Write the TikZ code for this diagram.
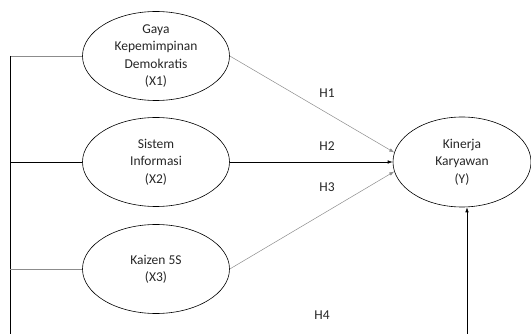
\documentclass[tikz,border=0pt]{standalone}
\usepackage{fontspec}
\setmainfont{Carlito}
\usetikzlibrary{shapes.geometric,arrows.meta}
\begin{document}
\begin{tikzpicture}[x=1pt,y=-1pt,
  var/.style={draw=black,line width=0.6pt,ellipse,inner sep=0pt,minimum width=147pt,minimum height=89pt,align=center,font=\fontsize{13.5}{17.3}\selectfont,text=black!85},
  thin gray/.style={draw=black!45,line width=0.5pt},
  dark/.style={draw=black,line width=0.6pt},
  arr/.style={-{Latex[length=5pt,width=3.5pt]}},
  lab/.style={font=\fontsize{13.5}{16}\selectfont,text=black!85}]
\useasboundingbox (0,0) rectangle (531,334);
\node[var] (x1) at (156,56) {Gaya\\Kepemimpinan\\Demokratis\\(X1)};
\node[var] (x2) at (156,162) {Sistem\\Informasi\\(X2)};
\node[var] (x3) at (156,269) {Kaizen 5S\\(X3)};
\node[var,minimum width=138pt,minimum height=90pt] (y) at (462,162) {Kinerja\\Karyawan\\(Y)};
\coordinate (c1) at (10,56);
\coordinate (cb) at (10,334);
\coordinate (hb) at (467,334);
\draw[thin gray] (x1.west) -- (c1);
\draw[dark] (c1) -- (cb);
\draw[dark] (x2.west) -- (c1 |- x2.west);
\draw[thin gray] (x3.west) -- (c1 |- x3.west);
\draw[thin gray,arr] (x1.east) -- (y.172);
\draw[dark,arr] (x2.east) -- (y.west);
\draw[thin gray,arr] (x3.east) -- (y.188);
\draw[dark,arr] (hb) -- (hb |- y.south);
\node[lab] (h1) at (327,93) {H1};
\node[lab] (h2) at (327,146) {H2};
\node[lab] (h3) at (327,187) {H3};
\node[lab] (h4) at (322,315) {H4};
\end{tikzpicture}
\end{document}
